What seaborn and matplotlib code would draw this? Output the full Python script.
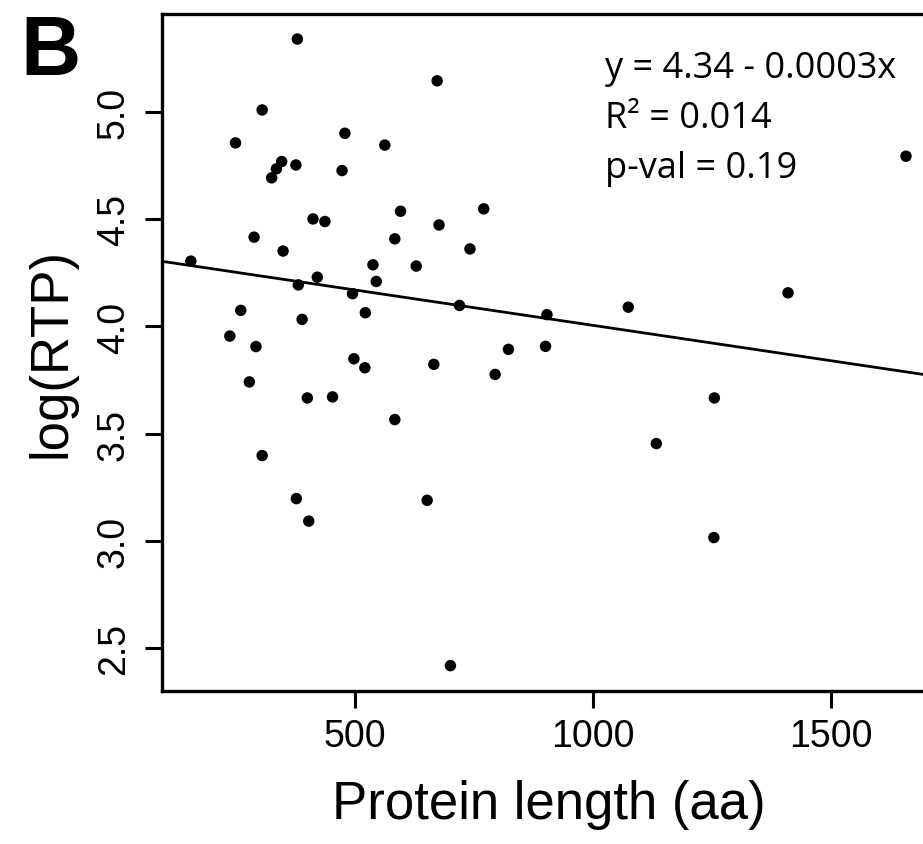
import pandas as pd
import seaborn as sns
import matplotlib.pyplot as plt

# values
protein_length = [378, 672, 304, 248, 478, 562, 345, 334, 324, 375,
                  472, 595, 411, 436, 676, 287, 583, 348, 154, 537,
                  628, 420, 544, 380, 494, 719, 259, 521, 388, 236,
                  291, 770, 741, 1658, 903, 1074, 1410, 822, 900, 794,
                  1255, 1133, 1254, 277, 497, 520, 665, 399, 452, 583,
                  304, 376, 402, 651, 700]
log_rtp = [5.342, 5.147, 5.011, 4.857, 4.902, 4.847, 4.770, 4.736, 4.694, 4.754,
           4.728, 4.538, 4.502, 4.490, 4.474, 4.417, 4.409, 4.352, 4.305, 4.288,
           4.282, 4.230, 4.210, 4.194, 4.153, 4.098, 4.075, 4.064, 4.033, 3.955,
           3.906, 4.549, 4.362, 4.795, 4.055, 4.090, 4.157, 3.893, 3.907, 3.776,
           3.666, 3.453, 3.014, 3.741, 3.849, 3.807, 3.823, 3.666, 3.671, 3.565,
           3.397, 3.196, 3.091, 3.188, 2.416]
fit_intercept = 4.335
fit_slope = -0.00033
stats_lines = ['y = 4.34 - 0.0003x', 'R\u00b2 = 0.014', 'p-val = 0.19']
x_ticks = [500, 1000, 1500]
y_ticks = [2.5, 3.0, 3.5, 4.0, 4.5, 5.0]

sns.set_theme(style='ticks')
plt.rcParams['font.family'] = ['Liberation Sans', 'DejaVu Sans']
plt.rcParams.update({'text.color': 'black', 'axes.labelcolor': 'black',
                     'xtick.color': 'black', 'ytick.color': 'black'})

df = pd.DataFrame({'length': protein_length, 'logrtp': log_rtp})

W, H = 923, 845
fig = plt.figure(figsize=(W / 100, H / 100), dpi=100)
# axes run a bit past the right edge, like the cropped original
ax = fig.add_axes([162.3 / W, (H - 691.7) / H, (934.5 - 162.3) / W, (691.7 - 15) / H])

sns.scatterplot(x='length', y='logrtp', data=df, color='black', s=68,
                edgecolor='none', linewidth=0, ax=ax)
ax.axline((0, fit_intercept), slope=fit_slope, color='black', lw=2)

ax.set_xlim(94, 1718)
ax.set_ylim(2.299, 5.459)
ax.set_xticks(x_ticks)
ax.set_yticks(y_ticks)
ax.set_yticklabels([f'{v:.1f}' for v in y_ticks], rotation=90, va='center')
ax.tick_params(axis='both', length=12, width=2.2, labelsize=27,
               color='black', labelcolor='black')
ax.tick_params(axis='y', pad=10)
ax.tick_params(axis='x', pad=8)
for s in ['top', 'left', 'bottom']:
    ax.spines[s].set_linewidth(2.4)
    ax.spines[s].set_color('black')
ax.spines['right'].set_visible(False)

ax.set_xlabel('Protein length (aa)', fontsize=38, labelpad=18, color='black')
ax.set_ylabel('log(RTP)', fontsize=38, labelpad=14, color='black')

for i, line in enumerate(stats_lines):
    fig.text(605 / W, 1 - (78 + 50 * i) / H, line, fontsize=26, color='black',
             family=['Open Sans', 'DejaVu Sans'], va='baseline', ha='left')

fig.text(20 / W, 1 - 75 / H, 'B', fontsize=60, weight='bold', color='black',
         va='baseline', ha='left')

plt.savefig('out.png', dpi=100)
